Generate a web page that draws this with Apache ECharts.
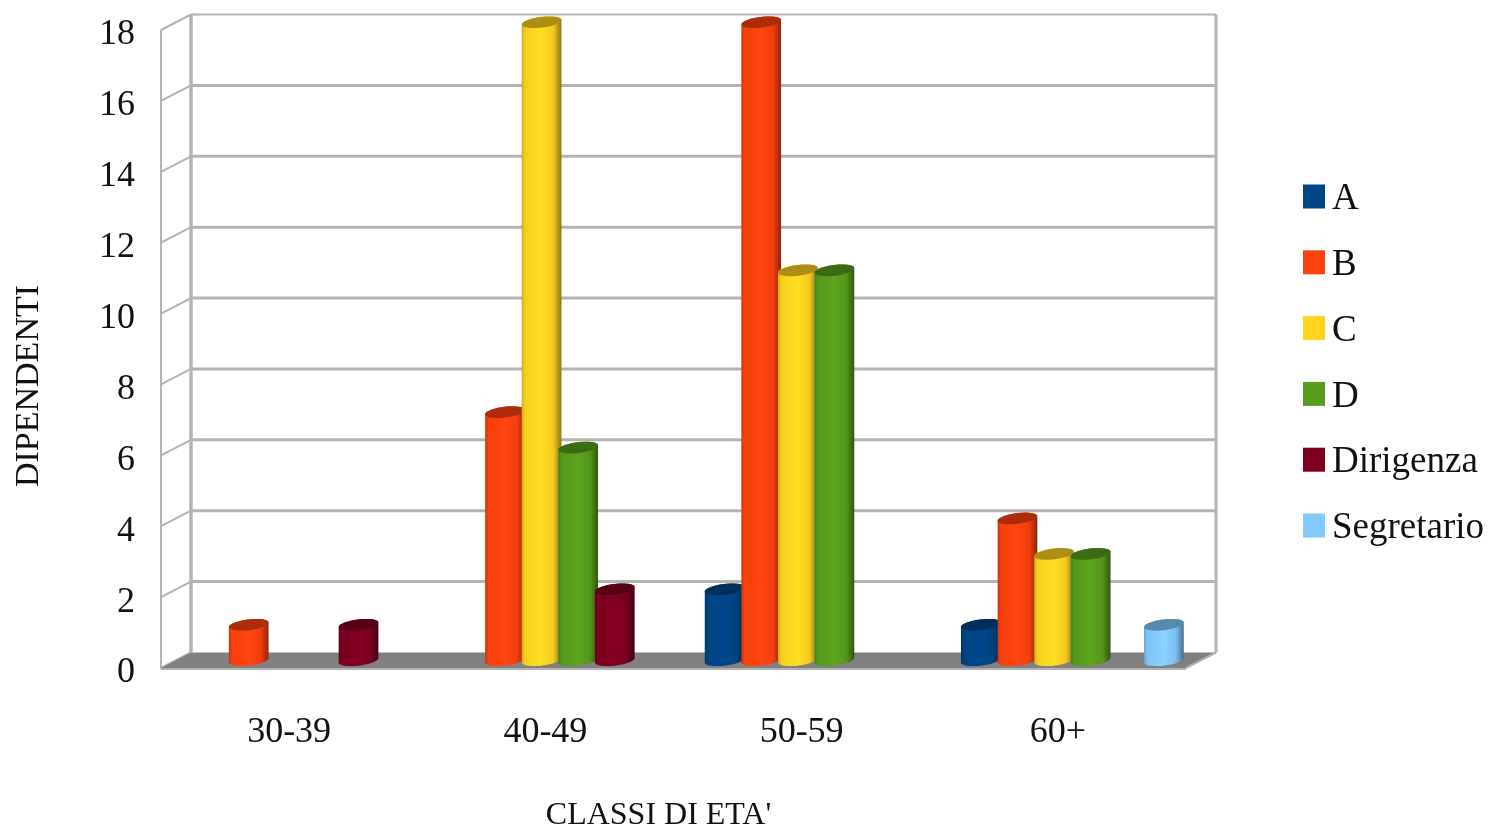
<!DOCTYPE html>
<html>
<head>
<meta charset="utf-8">
<style>html,body{margin:0;padding:0;background:#fff}#chart{width:1492px;height:827px}</style>
<script src="https://cdn.jsdelivr.net/npm/echarts@6/dist/echarts.min.js"></script>
</head>
<body>
<div id="chart"></div>
<script>
// Dipendenti per classe di età e categoria
const classi = ['30-39', '40-49', '50-59', '60+'];
const A = [0, 0, 2, 1];
const B = [1, 7, 18, 4];
const C = [0, 18, 11, 3];
const D = [0, 6, 11, 3];
const Dirigenza = [1, 2, 0, 0];
const Segretario = [0, 0, 0, 1];
const categorie = ['A', 'B', 'C', 'D', 'Dirigenza', 'Segretario'];
const valori = [A, B, C, D, Dirigenza, Segretario];
const colori = ['#004586', '#ff420e', '#ffd320', '#579d1c', '#7e0021', '#83caff'];
const colmax = 18, passo = 2;
const tacche = [0, 2, 4, 6, 8, 10, 12, 14, 16, 18];

// Chart box depth, in pixels
const DX = 30, DY = -15.5;
const LINEA = '#b3b3b3';
const FONT = '"Liberation Serif", serif';

function tono(hex, f) {
  const n = parseInt(hex.slice(1), 16);
  const c = [n >> 16, (n >> 8) & 255, n & 255].map(v => Math.min(255, Math.round(v * f)));
  return 'rgb(' + c.join(',') + ')';
}

// Points of a tilted ellipse between two angles
function arco(cx, cy, a0, a1) {
  const rx = 20, ry = 5.4, t = -7 * Math.PI / 180, pts = [];
  for (let i = 0; i <= 24; i++) {
    const a = a0 + (a1 - a0) * i / 24;
    const x = rx * Math.cos(a), y = ry * Math.sin(a);
    pts.push([cx + x * Math.cos(t) - y * Math.sin(t), cy + x * Math.sin(t) + y * Math.cos(t)]);
  }
  return pts;
}

function cilindro(indice) {
  return function (params, api) {
    const cat = api.value(0), val = api.value(1);
    const banda = api.size([1, 0])[0];
    const off = (indice - 2.5) * banda / 7;
    const base = api.coord([cat, 0]), cima = api.coord([cat, val]);
    const cx = base[0] + off + DX / 2 - 0.5;
    const yb = base[1] + DY / 2, yt = cima[1] + DY / 2;
    const col = colori[indice];
    const corpo = arco(cx, yb, 0, Math.PI).concat(arco(cx, yt, Math.PI, 2 * Math.PI));
    return {
      type: 'group',
      children: [
        {
          type: 'polygon',
          shape: { points: corpo },
          style: {
            fill: {
              type: 'linear', x: 0, y: 0, x2: 1, y2: 0,
              colorStops: [
                { offset: 0, color: tono(col, 0.8) },
                { offset: 0.08, color: tono(col, 0.97) },
                { offset: 0.5, color: tono(col, 1.05) },
                { offset: 0.8, color: tono(col, 0.95) },
                { offset: 1, color: tono(col, 0.55) }
              ]
            }
          }
        },
        {
          type: 'polygon',
          shape: { points: arco(cx, yt, 0, 2 * Math.PI) },
          style: { fill: tono(col, 0.68) }
        }
      ]
    };
  };
}

// Back wall grid lines and their slanted continuation on the side wall
function griglia(params, api) {
  const v = api.value(0);
  const banda = api.size([1, 0])[0];
  const p0 = api.coord([0, v]), p1 = api.coord([classi.length - 1, v]);
  const xs = p0[0] - banda / 2, xd = p1[0] + banda / 2, y = p0[1];
  const stile = { stroke: LINEA, lineWidth: v === colmax ? 2 : 3, fill: null };
  const figli = [];
  if (v > 0) {
    figli.push({ type: 'line', shape: { x1: xs + DX, y1: y + DY, x2: xd + DX, y2: y + DY }, style: stile });
  }
  figli.push({ type: 'line', shape: { x1: xs, y1: y, x2: xs + DX, y2: y + DY }, style: { stroke: LINEA, lineWidth: 2 } });
  return { type: 'group', children: figli };
}

// Floor and vertical edges of the box
function scatola(params, api) {
  const banda = api.size([1, 0])[0];
  const p0 = api.coord([0, 0]), p1 = api.coord([classi.length - 1, 0]), t = api.coord([0, colmax]);
  const xs = p0[0] - banda / 2, xd = p1[0] + banda / 2, yb = p0[1], yt = t[1];
  const bordo = w => ({ stroke: LINEA, lineWidth: w });
  return {
    type: 'group',
    children: [
      { type: 'polygon', shape: { points: [[xs, yb], [xd, yb], [xd + DX, yb + DY], [xs + DX, yb + DY]] }, style: { fill: '#808080' } },
      { type: 'line', shape: { x1: xs, y1: yb + 1, x2: xd, y2: yb + 1 }, style: bordo(2) },
      { type: 'line', shape: { x1: xd, y1: yb, x2: xd + DX, y2: yb + DY }, style: bordo(2) },
      { type: 'line', shape: { x1: xs, y1: yb + 1, x2: xs, y2: yt }, style: bordo(2) },
      { type: 'line', shape: { x1: xs + DX, y1: yb + DY, x2: xs + DX, y2: yt + DY }, style: bordo(3.5) },
      { type: 'line', shape: { x1: xd + DX, y1: yb + DY, x2: xd + DX, y2: yt + DY }, style: bordo(3) }
    ]
  };
}

const serieBarre = categorie.map((nome, i) => ({
  name: nome,
  type: 'custom',
  z: 3,
  silent: true,
  itemStyle: { color: colori[i] },
  renderItem: cilindro(i),
  encode: { x: 0, y: 1 },
  data: valori[i].map((v, c) => [c, v]).filter(d => d[1] > 0)
}));

const chart = echarts.init(document.getElementById('chart'), null, { renderer: 'canvas' });
chart.setOption({
  animation: false,
  backgroundColor: '#fff',
  grid: { left: 161, top: 30, width: 1025, height: 638, containLabel: false, outerBoundsMode: 'none' },
  legend: {
    orient: 'vertical',
    left: 1303,
    top: 181,
    padding: 0,
    icon: 'rect',
    itemWidth: 22,
    itemHeight: 24,
    itemGap: 28.8,
    selectedMode: false,
    data: categorie,
    formatter: '{t|{name}}',
    textStyle: {
      rich: { t: { fontFamily: FONT, fontSize: 37, color: '#111', padding: [6, 0, 0, 2] } }
    }
  },
  xAxis: {
    type: 'category',
    data: classi,
    name: "CLASSI DI ETA'",
    nameLocation: 'middle',
    nameGap: 132,
    nameTextStyle: { fontFamily: FONT, fontSize: 32, color: '#111', padding: [0, 30, 0, 0] },
    axisLine: { show: false },
    axisTick: { show: false },
    axisLabel: { fontFamily: FONT, fontSize: 36, color: '#111', margin: 47 }
  },
  yAxis: {
    type: 'value',
    min: 0,
    max: colmax,
    interval: passo,
    name: 'DIPENDENTI',
    nameLocation: 'middle',
    nameGap: 115,
    nameRotate: 90,
    nameTextStyle: { fontFamily: FONT, fontSize: 34, color: '#111', padding: [0, 74, 0, 0] },
    axisLine: { show: false },
    axisTick: { show: false },
    splitLine: { show: false },
    axisLabel: {
      margin: 26,
      formatter: '{n|{value}}',
      rich: { n: { fontFamily: FONT, fontSize: 36, color: '#111', padding: [10, 0, 0, 0] } }
    }
  },
  series: [
    { type: 'custom', z: 1, silent: true, renderItem: griglia, encode: { y: 0 }, data: tacche.map(v => [v]) },
    { type: 'custom', z: 2, silent: true, renderItem: scatola, data: [[0]] }
  ].concat(serieBarre)
});
</script>
</body>
</html>
